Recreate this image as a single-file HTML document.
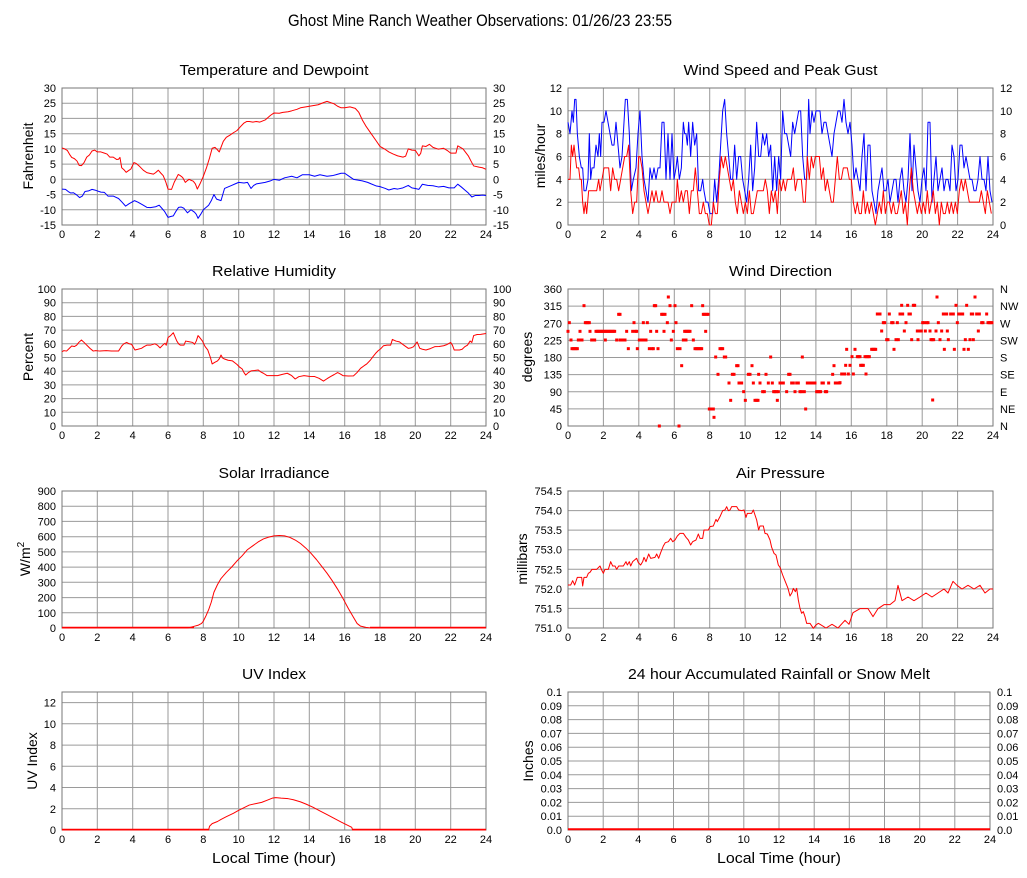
<!DOCTYPE html>
<html><head><meta charset="utf-8"><style>
html,body{margin:0;padding:0;background:#fff;}
svg{display:block;font-family:"Liberation Sans",Arial,Helvetica,sans-serif;}
.t{font-size:11px;fill:#000;}
.ttl{font-size:15px;fill:#000;text-anchor:middle;}
.al{font-size:14px;fill:#000;text-anchor:middle;}
.g{stroke:#9a9a9a;stroke-width:1;fill:none;}
.b{stroke:#777;stroke-width:1;fill:none;}
.r{fill:none;stroke:#ff0000;stroke-width:1;vector-effect:non-scaling-stroke;stroke-linejoin:round;}
.bl{fill:none;stroke:#0000ff;stroke-width:1;vector-effect:non-scaling-stroke;stroke-linejoin:round;}
</style></head><body>
<svg width="1027" height="878" viewBox="0 0 1027 878" xmlns="http://www.w3.org/2000/svg">
<rect width="1027" height="878" fill="#fff"/>
<defs>
<g id="xl" class="t" text-anchor="middle">
<text x="62">0</text><text x="97.3">2</text><text x="132.7">4</text><text x="168">6</text><text x="203.3">8</text><text x="238.7">10</text><text x="274">12</text><text x="309.3">14</text><text x="344.7">16</text><text x="380">18</text><text x="415.3">20</text><text x="450.7">22</text><text x="486">24</text>
</g>
<g id="xr" class="t" text-anchor="middle">
<text x="568">0</text><text x="603.4">2</text><text x="638.8">4</text><text x="674.3">6</text><text x="709.7">8</text><text x="745.1">10</text><text x="780.5">12</text><text x="815.9">14</text><text x="851.3">16</text><text x="886.8">18</text><text x="922.2">20</text><text x="957.6">22</text><text x="993">24</text>
</g>
<rect id="d" x="-4.5" y="-4.5" width="9" height="9" fill="#ff0000"/>
</defs>

<text x="480" y="26" font-size="17" text-anchor="middle" textLength="384" lengthAdjust="spacingAndGlyphs">Ghost Mine Ranch Weather Observations: 01/26/23 23:55</text>

<!-- ============ Temperature ============ -->
<text class="ttl" x="274" y="75" textLength="189" lengthAdjust="spacingAndGlyphs">Temperature and Dewpoint</text>
<path class="g" d="M97.3,88V225M132.7,88V225M168,88V225M203.3,88V225M238.7,88V225M274,88V225M309.3,88V225M344.7,88V225M380,88V225M415.3,88V225M450.7,88V225M62,103.2H486M62,118.4H486M62,133.7H486M62,148.9H486M62,164.1H486M62,179.3H486M62,194.6H486M62,209.8H486"/>
<rect class="b" x="62" y="88" width="424" height="137"/>
<g class="t" text-anchor="end">
<text x="56" y="92">30</text><text x="56" y="107.2">25</text><text x="56" y="122.4">20</text><text x="56" y="137.7">15</text><text x="56" y="152.9">10</text><text x="56" y="168.1">5</text><text x="56" y="183.3">0</text><text x="56" y="198.6">-5</text><text x="56" y="213.8">-10</text><text x="56" y="229">-15</text>
</g>
<g class="t">
<text x="493" y="92">30</text><text x="493" y="107.2">25</text><text x="493" y="122.4">20</text><text x="493" y="137.7">15</text><text x="493" y="152.9">10</text><text x="493" y="168.1">5</text><text x="493" y="183.3">0</text><text x="493" y="198.6">-5</text><text x="493" y="213.8">-10</text><text x="493" y="229">-15</text>
</g>
<use href="#xl" y="238"/>
<text class="al" transform="translate(33,156) rotate(-90)">Fahrenheit</text>
<g transform="matrix(17.667 0 0 -3.0444 62 179.33)">
<polyline class="r" points="0,10.3 0.15,10 0.3,9.5 0.45,8 0.55,7.2 0.7,6.8 0.85,6 0.97,4.6 1.1,4.5 1.25,5.5 1.4,7.3 1.55,8 1.7,9.3 1.85,9.6 2.0,9 2.2,9 2.4,8.6 2.55,8.3 2.7,7.3 2.9,7.3 3.1,6.5 3.2,6.6 3.28,7.2 3.38,3.8 3.5,3.2 3.63,2.3 3.75,2.8 3.9,3.4 4.07,5.5 4.2,5.2 4.4,4.2 4.6,3 4.8,2.2 5.0,1.9 5.17,1.7 5.3,2.2 5.45,3 5.6,2 5.73,1.2 5.87,-0.8 6.0,-3.2 6.2,-3.3 6.35,-1 6.58,1.6 6.7,1.2 6.83,0.6 6.98,-1 7.1,-0.4 7.19,0 7.3,-0.3 7.43,-0.6 7.55,-1.5 7.66,-3.2 7.81,-1.5 8.0,1 8.19,4 8.35,7 8.5,10.2 8.66,10.5 8.78,9.8 8.9,9 9.0,10.5 9.13,12.5 9.3,13.8 9.5,14.5 9.7,15.3 9.9,16 10.1,17.3 10.3,18.5 10.46,19 10.6,19 10.8,18.8 11.0,19 11.2,18.8 11.5,19.5 11.8,21 12.0,21.8 12.3,21.7 12.5,22 12.8,22.2 13.0,22.5 13.3,23 13.5,23.5 13.8,23.8 14.0,24 14.3,24.3 14.5,24.5 14.8,25.2 15.0,25.6 15.2,25.2 15.4,24.8 15.6,24 15.8,23.5 16.0,23.5 16.3,23.8 16.6,23.3 16.8,22 17.0,19.5 17.2,17.5 17.5,15 17.8,12.5 18.0,10.8 18.25,10 18.5,9 18.75,8.3 19.0,7.7 19.3,7.3 19.45,7.6 19.6,10 19.8,9.6 20.0,9.5 20.2,7.7 20.3,8.5 20.4,11 20.6,10.8 20.8,11.5 21.0,10.5 21.3,9.9 21.6,10.2 21.8,9.5 22.0,8.6 22.3,8.6 22.4,11 22.7,10 23.0,7.7 23.15,6 23.3,4.4 23.6,4 23.8,3.8 24,3.3"/>
<polyline class="bl" points="0,-3.2 0.2,-3.3 0.35,-4 0.5,-4.5 0.65,-4.4 0.8,-5 1.0,-6 1.15,-5.5 1.3,-4 1.5,-3.8 1.7,-3.3 1.9,-3.6 2.2,-4.2 2.4,-4.3 2.6,-5.5 2.9,-5.5 3.2,-6.3 3.4,-7.5 3.6,-8.8 3.8,-8 4.1,-7 4.3,-7.5 4.6,-8.5 4.8,-9.2 5.0,-9.3 5.3,-9 5.5,-8.5 5.65,-9.5 5.8,-10.5 6.0,-12.5 6.15,-12.2 6.3,-12 6.45,-10.5 6.6,-9.2 6.75,-9.1 6.9,-9.5 7.1,-11 7.3,-10 7.5,-10.8 7.6,-11.5 7.7,-12.8 7.85,-11.5 8.0,-10 8.3,-8.5 8.45,-7 8.6,-5 8.75,-6.5 9.0,-7 9.2,-3 9.4,-2.5 9.6,-2 9.8,-1.5 10.0,-1 10.3,-1.2 10.5,-1 10.7,-3 10.85,-2 11.0,-1.5 11.3,-1.2 11.5,-1 11.8,-0.5 12.0,0 12.3,-0.3 12.6,0.5 13.0,1 13.3,0.5 13.6,1.5 14.0,1.5 14.3,1 14.6,1.5 15.0,1 15.3,1.2 15.5,1.5 15.8,2 16.0,2 16.2,1.2 16.5,0 16.8,-0.3 17.0,-0.5 17.3,-1 17.5,-1.5 17.8,-2.2 18.0,-2.4 18.3,-3 18.5,-3.5 18.8,-3 19.0,-3.2 19.3,-2.8 19.6,-2 19.8,-2.8 20.0,-3 20.2,-3.3 20.4,-1.6 20.7,-2 21.0,-2.1 21.3,-2.5 21.6,-2.3 21.9,-2.8 22.2,-2.8 22.4,-1.6 22.6,-2.5 22.8,-3.5 23.0,-4.5 23.2,-5.8 23.4,-5.3 23.6,-5.3 23.8,-5.2 24,-5.3"/>
</g>

<!-- ============ Wind Speed ============ -->
<text class="ttl" x="780.5" y="75" textLength="194" lengthAdjust="spacingAndGlyphs">Wind Speed and Peak Gust</text>
<path class="g" d="M603.4,88V225M638.8,88V225M674.3,88V225M709.7,88V225M745.1,88V225M780.5,88V225M815.9,88V225M851.3,88V225M886.8,88V225M922.2,88V225M957.6,88V225M568,110.8H993M568,133.7H993M568,156.5H993M568,179.3H993M568,202.2H993"/>
<rect class="b" x="568" y="88" width="425" height="137"/>
<g class="t" text-anchor="end">
<text x="562" y="92">12</text><text x="562" y="114.8">10</text><text x="562" y="137.7">8</text><text x="562" y="160.5">6</text><text x="562" y="183.3">4</text><text x="562" y="206.2">2</text><text x="562" y="229">0</text>
</g>
<g class="t">
<text x="1000" y="92">12</text><text x="1000" y="114.8">10</text><text x="1000" y="137.7">8</text><text x="1000" y="160.5">6</text><text x="1000" y="183.3">4</text><text x="1000" y="206.2">2</text><text x="1000" y="229">0</text>
</g>
<use href="#xr" y="238"/>
<text class="al" transform="translate(545,156) rotate(-90)">miles/hour</text>
<g transform="matrix(0.33333 0 0 -11.4167 560 225)">
<polyline class="bl" points="24,9 30,8 36,10 40,9 44,11 48,11 52,8 58,6 64,5 68,5 72,3 78,3 84,4 88,8 92,4 96,5 102,5 108,7 114,6 118,8 122,6 126,9 132,9 138,10 144,9 150,8 156,7 162,7 168,9 174,7 180,5 186,6 192,9 196,11 202,11 208,8 214,3 220,4 228,5 234,8 240,10 246,6 252,4 258,3 264,2 270,5 276,4 282,5 288,4 294,5 300,5 306,9 312,9 318,4 324,8 330,4 336,8 342,4 348,5 352,6 358,4 364,5 370,9 374,8 378,8 382,7 386,9 392,6 398,9 404,7 410,8 416,3 422,3 428,4 432,3 438,2 444,2 450,1 458,1 464,4 470,2 476,4 482,7 488,10 494,11 500,8 506,6 512,4 518,4 524,7 530,4 536,6 542,6 548,4 554,3 560,2 566,4 572,7 578,3 584,5 590,9 596,6 602,6 608,8 614,7 620,8 626,6 632,7 638,3 644,6 650,3 656,6 662,4 668,10 674,8 680,8 686,7 692,6 698,9 704,8 710,9 716,10 722,10 728,6 734,4 740,4 746,11 750,8 756,10 762,9 768,10 774,10 780,10 786,8 792,9 798,9 804,8 810,7 816,6 822,8 828,9 834,10 840,10 846,9 852,11 858,9 864,8 870,9 876,7 882,4 888,5 894,4 900,3 906,6 912,8 918,3 924,7 930,7 936,3 942,2 948,1 954,3 960,4 966,5 972,3 978,3 984,4 990,2 996,3 1002,4 1008,4 1014,2 1020,4 1026,5 1032,3 1038,2 1044,4 1050,8 1056,3 1062,7 1068,5 1074,3 1080,2 1086,4 1092,5 1098,3 1104,9 1110,9 1116,2 1122,4 1128,6 1134,3 1140,4 1146,5 1152,3 1158,4 1164,4 1170,3 1176,7 1182,6 1188,3 1194,4 1200,7 1206,7 1212,5 1218,6 1224,5 1230,4 1236,4 1242,3 1248,3 1254,4 1260,6 1266,4 1272,4 1278,3 1284,6 1290,3 1296,2"/>
<polyline class="r" points="24,4 30,4 34,7 38,6 42,7 46,6 50,5 56,5 60,4 64,4 68,2 72,1 76,2 80,1 86,3 92,3 100,3 110,3 116,4 120,3 126,4 132,5 140,5 146,5 152,3 158,5 164,4 170,4 176,3 182,4 188,5 194,6 200,6 206,7 212,3 218,1 224,2 230,2 236,6 240,6 246,5 252,3 258,2 264,1 270,2 276,3 282,2 288,3 294,2 300,2 306,3 312,2 318,2 324,2 330,1 336,2 342,2 348,2 352,4 358,2 364,3 370,2 376,3 382,3 388,1 394,3 400,3 406,5 412,3 418,1 424,1 430,2 436,1 442,1 448,0 454,0 460,2 466,1 472,1 478,4 484,6 490,5 496,6 502,5 508,4 514,3 520,4 526,2 532,1 538,3 544,2 550,1 556,2 562,1 568,3 574,1 580,1 586,2 592,3 598,3 604,3 610,3 616,4 622,3 628,1 634,3 640,2 646,3 652,1 658,4 664,3 670,4 676,3 682,4 688,4 694,4 700,5 706,3 712,4 718,4 724,4 730,2 736,2 742,6 748,4 754,6 760,5 766,6 772,6 778,6 784,4 790,5 796,3 802,4 808,3 814,2 820,2 826,4 832,6 838,4 844,4 850,5 856,5 862,5 868,4 874,4 880,2 886,1 892,2 898,1 904,1 910,3 916,1 922,2 928,1 934,2 940,1 946,0 952,1 958,2 964,1 970,3 976,1 982,2 988,2 994,1 1000,2 1006,1 1012,1 1018,2 1024,3 1030,1 1036,2 1042,0 1048,3 1054,5 1060,3 1066,2 1072,1 1078,2 1084,1 1090,2 1096,1 1102,3 1108,1 1114,2 1120,3 1126,1 1132,2 1138,0 1144,2 1150,1 1156,1 1162,2 1168,1 1174,2 1180,1 1186,2 1192,1 1198,3 1204,4 1210,3 1216,4 1222,3 1228,2 1234,2 1240,2 1246,2 1252,2 1258,2 1264,3 1270,2 1276,1 1282,3 1288,2 1294,1"/>
</g>

<!-- ============ Relative Humidity ============ -->
<text class="ttl" x="274" y="276" textLength="124" lengthAdjust="spacingAndGlyphs">Relative Humidity</text>
<path class="g" d="M97.3,289V426M132.7,289V426M168,289V426M203.3,289V426M238.7,289V426M274,289V426M309.3,289V426M344.7,289V426M380,289V426M415.3,289V426M450.7,289V426M62,302.7H486M62,316.4H486M62,330.1H486M62,343.8H486M62,357.5H486M62,371.2H486M62,384.9H486M62,398.6H486M62,412.3H486"/>
<rect class="b" x="62" y="289" width="424" height="137"/>
<g class="t" text-anchor="end">
<text x="56" y="293">100</text><text x="56" y="306.7">90</text><text x="56" y="320.4">80</text><text x="56" y="334.1">70</text><text x="56" y="347.8">60</text><text x="56" y="361.5">50</text><text x="56" y="375.2">40</text><text x="56" y="388.9">30</text><text x="56" y="402.6">20</text><text x="56" y="416.3">10</text><text x="56" y="430">0</text>
</g>
<g class="t">
<text x="493" y="293">100</text><text x="493" y="306.7">90</text><text x="493" y="320.4">80</text><text x="493" y="334.1">70</text><text x="493" y="347.8">60</text><text x="493" y="361.5">50</text><text x="493" y="375.2">40</text><text x="493" y="388.9">30</text><text x="493" y="402.6">20</text><text x="493" y="416.3">10</text><text x="493" y="430">0</text>
</g>
<use href="#xl" y="439"/>
<text class="al" transform="translate(33,357) rotate(-90)">Percent</text>
<g transform="matrix(17.667 0 0 -1.37 62 426)">
<polyline class="r" points="0,54.2 0.1,55 0.26,54.7 0.4,56.5 0.55,58.4 0.7,58 0.83,59 0.95,61 1.1,62.8 1.25,61 1.4,59 1.6,56.5 1.77,54.7 1.9,55 2.15,54.7 2.5,55 2.8,54.7 3.2,54.7 3.38,58.4 3.5,60 3.66,61 3.8,60 3.94,59.6 4.13,55.5 4.3,56 4.5,56.7 4.65,58 4.8,59 5.0,59 5.26,60 5.4,59 5.55,57 5.7,59 5.83,60.4 5.9,59 6.0,64.5 6.15,66 6.3,68.1 6.4,65 6.5,62 6.6,60 6.7,59 6.9,59 7.0,62 7.2,61.5 7.4,61 7.5,59.6 7.6,62 7.7,66 7.8,64.5 7.95,62 8.1,58 8.25,55.5 8.4,50 8.5,45.3 8.65,46.5 8.8,47.5 8.9,49 9.0,51.8 9.1,49.5 9.2,48.9 9.4,48 9.65,47.5 9.8,46 9.9,45 10.05,43 10.2,41.6 10.3,39 10.4,37.2 10.55,39 10.7,40.2 10.9,40.5 11.1,40.9 11.25,39.5 11.4,38.5 11.6,36.8 11.9,36.8 12.2,36.8 12.5,37.8 12.75,38.5 12.9,37.5 13.0,36.8 13.2,34.3 13.4,36 13.7,36.8 14.0,36.2 14.3,36.1 14.55,34.8 14.8,32.8 15.0,34.5 15.2,36.1 15.4,37.5 15.6,39 15.75,38 15.9,36.8 16.2,36.5 16.5,36.6 16.7,39 16.9,42.1 17.1,44 17.25,45.3 17.45,48 17.6,50.6 17.75,53 17.9,55 18.05,56.5 18.2,58.6 18.4,59 18.6,59 18.7,63.2 18.9,62 19.1,61.4 19.35,59 19.6,56.7 19.75,57 19.9,57.9 20.1,61.4 20.25,56.7 20.4,56 20.6,55.5 20.85,56.5 21.1,57.9 21.35,58 21.6,58.6 21.8,59.5 22.0,61 22.1,59 22.2,55.5 22.5,55.5 22.65,56 22.8,57.9 22.95,59 23.1,62 23.2,61 23.3,66 23.5,66.8 23.7,66.9 24,67.5"/>
</g>

<!-- ============ Wind Direction ============ -->
<text class="ttl" x="780.5" y="276" textLength="103" lengthAdjust="spacingAndGlyphs">Wind Direction</text>
<path class="g" d="M603.4,289V426M638.8,289V426M674.3,289V426M709.7,289V426M745.1,289V426M780.5,289V426M815.9,289V426M851.3,289V426M886.8,289V426M922.2,289V426M957.6,289V426M568,306.1H993M568,323.3H993M568,340.4H993M568,357.5H993M568,374.6H993M568,391.8H993M568,408.9H993"/>
<rect class="b" x="568" y="289" width="425" height="137"/>
<g class="t" text-anchor="end">
<text x="562" y="293">360</text><text x="562" y="310.1">315</text><text x="562" y="327.3">270</text><text x="562" y="344.4">225</text><text x="562" y="361.5">180</text><text x="562" y="378.6">135</text><text x="562" y="395.8">90</text><text x="562" y="412.9">45</text><text x="562" y="430">0</text>
</g>
<g class="t">
<text x="1000" y="293">N</text><text x="1000" y="310.1">NW</text><text x="1000" y="327.3">W</text><text x="1000" y="344.4">SW</text><text x="1000" y="361.5">S</text><text x="1000" y="378.6">SE</text><text x="1000" y="395.8">E</text><text x="1000" y="412.9">NE</text><text x="1000" y="430">N</text>
</g>
<use href="#xr" y="439"/>
<text class="al" transform="translate(532,357) rotate(-90)">degrees</text>
<g transform="translate(560,285) scale(0.33333)">
<use href="#d" x="24" y="139"/><use href="#d" x="28" y="113"/><use href="#d" x="33" y="165"/><use href="#d" x="36" y="191"/><use href="#d" x="40" y="191"/><use href="#d" x="44" y="191"/><use href="#d" x="48" y="191"/><use href="#d" x="52" y="191"/><use href="#d" x="55" y="165"/><use href="#d" x="60" y="139"/><use href="#d" x="62" y="165"/><use href="#d" x="66" y="165"/><use href="#d" x="72" y="62"/><use href="#d" x="76" y="113"/><use href="#d" x="80" y="113"/><use href="#d" x="84" y="113"/><use href="#d" x="88" y="113"/><use href="#d" x="90" y="139"/><use href="#d" x="95" y="165"/><use href="#d" x="100" y="165"/><use href="#d" x="104" y="165"/><use href="#d" x="108" y="139"/><use href="#d" x="112" y="139"/><use href="#d" x="116" y="139"/><use href="#d" x="120" y="139"/><use href="#d" x="124" y="139"/><use href="#d" x="128" y="139"/><use href="#d" x="132" y="139"/><use href="#d" x="136" y="165"/><use href="#d" x="136" y="139"/><use href="#d" x="140" y="139"/><use href="#d" x="144" y="139"/><use href="#d" x="148" y="139"/><use href="#d" x="152" y="139"/><use href="#d" x="156" y="139"/><use href="#d" x="160" y="139"/><use href="#d" x="164" y="139"/><use href="#d" x="170" y="165"/><use href="#d" x="176" y="88"/><use href="#d" x="180" y="88"/><use href="#d" x="180" y="165"/><use href="#d" x="185" y="165"/><use href="#d" x="190" y="165"/><use href="#d" x="195" y="165"/><use href="#d" x="200" y="139"/><use href="#d" x="205" y="191"/><use href="#d" x="218" y="139"/><use href="#d" x="222" y="113"/><use href="#d" x="226" y="139"/><use href="#d" x="230" y="139"/><use href="#d" x="232" y="191"/><use href="#d" x="238" y="165"/><use href="#d" x="242" y="165"/><use href="#d" x="246" y="165"/><use href="#d" x="250" y="113"/><use href="#d" x="250" y="165"/><use href="#d" x="254" y="165"/><use href="#d" x="258" y="165"/><use href="#d" x="262" y="113"/><use href="#d" x="268" y="191"/><use href="#d" x="272" y="139"/><use href="#d" x="276" y="191"/><use href="#d" x="280" y="191"/><use href="#d" x="283" y="62"/><use href="#d" x="287" y="62"/><use href="#d" x="290" y="139"/><use href="#d" x="294" y="191"/><use href="#d" x="298" y="423"/><use href="#d" x="305" y="88"/><use href="#d" x="309" y="88"/><use href="#d" x="312" y="139"/><use href="#d" x="315" y="88"/><use href="#d" x="322" y="113"/><use href="#d" x="325" y="36"/><use href="#d" x="330" y="62"/><use href="#d" x="334" y="165"/><use href="#d" x="340" y="139"/><use href="#d" x="345" y="62"/><use href="#d" x="348" y="113"/><use href="#d" x="352" y="191"/><use href="#d" x="357" y="423"/><use href="#d" x="360" y="191"/><use href="#d" x="365" y="242"/><use href="#d" x="370" y="165"/><use href="#d" x="374" y="139"/><use href="#d" x="378" y="165"/><use href="#d" x="378" y="139"/><use href="#d" x="382" y="139"/><use href="#d" x="386" y="139"/><use href="#d" x="390" y="139"/><use href="#d" x="395" y="62"/><use href="#d" x="400" y="165"/><use href="#d" x="405" y="191"/><use href="#d" x="409" y="191"/><use href="#d" x="413" y="191"/><use href="#d" x="417" y="191"/><use href="#d" x="421" y="191"/><use href="#d" x="425" y="191"/><use href="#d" x="428" y="62"/><use href="#d" x="430" y="88"/><use href="#d" x="434" y="88"/><use href="#d" x="437" y="139"/><use href="#d" x="440" y="88"/><use href="#d" x="444" y="88"/><use href="#d" x="448" y="372"/><use href="#d" x="452" y="372"/><use href="#d" x="456" y="372"/><use href="#d" x="460" y="372"/><use href="#d" x="462" y="397"/><use href="#d" x="467" y="216"/><use href="#d" x="474" y="268"/><use href="#d" x="480" y="191"/><use href="#d" x="484" y="191"/><use href="#d" x="488" y="191"/><use href="#d" x="493" y="216"/><use href="#d" x="497" y="216"/><use href="#d" x="507" y="294"/><use href="#d" x="512" y="346"/><use href="#d" x="517" y="268"/><use href="#d" x="522" y="268"/><use href="#d" x="530" y="242"/><use href="#d" x="534" y="242"/><use href="#d" x="537" y="294"/><use href="#d" x="541" y="294"/><use href="#d" x="545" y="294"/><use href="#d" x="551" y="320"/><use href="#d" x="556" y="346"/><use href="#d" x="565" y="268"/><use href="#d" x="570" y="268"/><use href="#d" x="576" y="242"/><use href="#d" x="580" y="294"/><use href="#d" x="585" y="346"/><use href="#d" x="590" y="346"/><use href="#d" x="594" y="346"/><use href="#d" x="596" y="268"/><use href="#d" x="600" y="294"/><use href="#d" x="608" y="320"/><use href="#d" x="613" y="320"/><use href="#d" x="618" y="268"/><use href="#d" x="625" y="294"/><use href="#d" x="632" y="216"/><use href="#d" x="637" y="294"/><use href="#d" x="641" y="320"/><use href="#d" x="645" y="320"/><use href="#d" x="649" y="320"/><use href="#d" x="652" y="346"/><use href="#d" x="655" y="320"/><use href="#d" x="660" y="294"/><use href="#d" x="665" y="294"/><use href="#d" x="670" y="294"/><use href="#d" x="680" y="320"/><use href="#d" x="686" y="268"/><use href="#d" x="690" y="268"/><use href="#d" x="695" y="294"/><use href="#d" x="700" y="294"/><use href="#d" x="705" y="320"/><use href="#d" x="710" y="294"/><use href="#d" x="715" y="294"/><use href="#d" x="720" y="320"/><use href="#d" x="725" y="320"/><use href="#d" x="727" y="216"/><use href="#d" x="733" y="320"/><use href="#d" x="737" y="372"/><use href="#d" x="742" y="294"/><use href="#d" x="746" y="294"/><use href="#d" x="750" y="294"/><use href="#d" x="755" y="294"/><use href="#d" x="760" y="294"/><use href="#d" x="765" y="294"/><use href="#d" x="770" y="320"/><use href="#d" x="774" y="320"/><use href="#d" x="778" y="320"/><use href="#d" x="782" y="320"/><use href="#d" x="786" y="294"/><use href="#d" x="790" y="294"/><use href="#d" x="796" y="320"/><use href="#d" x="800" y="320"/><use href="#d" x="806" y="294"/><use href="#d" x="818" y="268"/><use href="#d" x="822" y="242"/><use href="#d" x="826" y="294"/><use href="#d" x="830" y="294"/><use href="#d" x="834" y="294"/><use href="#d" x="838" y="294"/>
</g>
<g transform="translate(840,270) scale(0.33333)">
<use href="#d" x="0" y="338"/><use href="#d" x="5" y="312"/><use href="#d" x="10" y="312"/><use href="#d" x="14" y="312"/><use href="#d" x="17" y="286"/><use href="#d" x="20" y="238"/><use href="#d" x="25" y="312"/><use href="#d" x="30" y="286"/><use href="#d" x="36" y="260"/><use href="#d" x="40" y="312"/><use href="#d" x="45" y="238"/><use href="#d" x="52" y="260"/><use href="#d" x="56" y="260"/><use href="#d" x="60" y="260"/><use href="#d" x="62" y="286"/><use href="#d" x="66" y="286"/><use href="#d" x="70" y="286"/><use href="#d" x="75" y="260"/><use href="#d" x="78" y="312"/><use href="#d" x="80" y="260"/><use href="#d" x="84" y="260"/><use href="#d" x="88" y="260"/><use href="#d" x="95" y="238"/><use href="#d" x="99" y="238"/><use href="#d" x="103" y="238"/><use href="#d" x="107" y="238"/><use href="#d" x="112" y="132"/><use href="#d" x="116" y="132"/><use href="#d" x="120" y="132"/><use href="#d" x="125" y="183"/><use href="#d" x="130" y="158"/><use href="#d" x="134" y="158"/><use href="#d" x="140" y="209"/><use href="#d" x="144" y="209"/><use href="#d" x="148" y="132"/><use href="#d" x="155" y="158"/><use href="#d" x="159" y="158"/><use href="#d" x="162" y="238"/><use href="#d" x="168" y="209"/><use href="#d" x="172" y="158"/><use href="#d" x="175" y="209"/><use href="#d" x="180" y="132"/><use href="#d" x="184" y="132"/><use href="#d" x="185" y="106"/><use href="#d" x="188" y="132"/><use href="#d" x="193" y="183"/><use href="#d" x="198" y="158"/><use href="#d" x="203" y="106"/><use href="#d" x="207" y="132"/><use href="#d" x="211" y="132"/><use href="#d" x="215" y="209"/><use href="#d" x="220" y="106"/><use href="#d" x="224" y="106"/><use href="#d" x="232" y="183"/><use href="#d" x="234" y="209"/><use href="#d" x="236" y="183"/><use href="#d" x="240" y="183"/><use href="#d" x="244" y="183"/><use href="#d" x="248" y="158"/><use href="#d" x="252" y="158"/><use href="#d" x="256" y="183"/><use href="#d" x="260" y="158"/><use href="#d" x="264" y="158"/><use href="#d" x="270" y="183"/><use href="#d" x="273" y="209"/><use href="#d" x="277" y="209"/><use href="#d" x="281" y="209"/><use href="#d" x="278" y="390"/><use href="#d" x="288" y="183"/><use href="#d" x="291" y="81"/><use href="#d" x="295" y="158"/><use href="#d" x="300" y="209"/><use href="#d" x="305" y="183"/><use href="#d" x="310" y="132"/><use href="#d" x="313" y="238"/><use href="#d" x="316" y="132"/><use href="#d" x="320" y="132"/><use href="#d" x="322" y="183"/><use href="#d" x="325" y="209"/><use href="#d" x="332" y="132"/><use href="#d" x="336" y="132"/><use href="#d" x="340" y="132"/><use href="#d" x="343" y="238"/><use href="#d" x="348" y="106"/><use href="#d" x="352" y="158"/><use href="#d" x="356" y="132"/><use href="#d" x="360" y="132"/><use href="#d" x="364" y="132"/><use href="#d" x="368" y="132"/><use href="#d" x="372" y="238"/><use href="#d" x="376" y="209"/><use href="#d" x="380" y="106"/><use href="#d" x="385" y="238"/><use href="#d" x="390" y="209"/><use href="#d" x="394" y="132"/><use href="#d" x="398" y="132"/><use href="#d" x="400" y="209"/><use href="#d" x="405" y="81"/><use href="#d" x="410" y="132"/><use href="#d" x="414" y="132"/><use href="#d" x="418" y="132"/><use href="#d" x="415" y="183"/><use href="#d" x="425" y="158"/><use href="#d" x="429" y="158"/><use href="#d" x="440" y="132"/><use href="#d" x="444" y="158"/><use href="#d" x="448" y="158"/><use href="#d" x="452" y="158"/><use href="#d" x="456" y="158"/>
</g>

<!-- ============ Solar Irradiance ============ -->
<text class="ttl" x="274" y="478" textLength="111" lengthAdjust="spacingAndGlyphs">Solar Irradiance</text>
<path class="g" d="M97.3,491V628M132.7,491V628M168,491V628M203.3,491V628M238.7,491V628M274,491V628M309.3,491V628M344.7,491V628M380,491V628M415.3,491V628M450.7,491V628M62,506.2H486M62,521.4H486M62,536.7H486M62,551.9H486M62,567.1H486M62,582.3H486M62,597.6H486M62,612.8H486"/>
<rect class="b" x="62" y="491" width="424" height="137"/>
<g class="t" text-anchor="end">
<text x="56" y="495">900</text><text x="56" y="510.2">800</text><text x="56" y="525.4">700</text><text x="56" y="540.7">600</text><text x="56" y="555.9">500</text><text x="56" y="571.1">400</text><text x="56" y="586.3">300</text><text x="56" y="601.6">200</text><text x="56" y="616.8">100</text><text x="56" y="632">0</text>
</g>
<use href="#xl" y="641"/>
<text class="al" transform="translate(30,559) rotate(-90)">W/m<tspan font-size="10" dy="-6">2</tspan></text>
<line x1="62" y1="627.5" x2="194" y2="627.5" stroke="#ff0000" stroke-width="1.6"/>
<line x1="370" y1="627.5" x2="486" y2="627.5" stroke="#ff0000" stroke-width="1.6"/>
<g transform="matrix(17.667 0 0 -0.15222 62 628)">
<polyline class="r" points="0,0 7.1,0 7.3,5 7.5,12 7.7,18 7.9,30 8.0,45 8.15,80 8.3,120 8.45,170 8.6,235 8.8,285 9.0,325 9.3,365 9.6,400 9.9,440 10.2,475 10.5,515 10.8,540 11.1,565 11.4,585 11.7,597 12.0,605 12.3,608 12.6,605 12.9,595 13.2,578 13.5,555 13.8,525 14.1,490 14.4,450 14.7,405 15.0,360 15.3,310 15.6,255 15.9,195 16.2,130 16.5,70 16.7,30 16.9,12 17.2,4 17.5,0 24,0"/>
</g>

<!-- ============ Air Pressure ============ -->
<text class="ttl" x="780.5" y="478" textLength="89" lengthAdjust="spacingAndGlyphs">Air Pressure</text>
<path class="g" d="M603.4,491V628M638.8,491V628M674.3,491V628M709.7,491V628M745.1,491V628M780.5,491V628M815.9,491V628M851.3,491V628M886.8,491V628M922.2,491V628M957.6,491V628M568,510.6H993M568,530.1H993M568,549.7H993M568,569.3H993M568,588.9H993M568,608.4H993"/>
<rect class="b" x="568" y="491" width="425" height="137"/>
<g class="t" text-anchor="end">
<text x="562" y="495">754.5</text><text x="562" y="514.6">754.0</text><text x="562" y="534.1">753.5</text><text x="562" y="553.7">753.0</text><text x="562" y="573.3">752.5</text><text x="562" y="592.9">752.0</text><text x="562" y="612.4">751.5</text><text x="562" y="632">751.0</text>
</g>
<use href="#xr" y="641"/>
<text class="al" transform="translate(527,559) rotate(-90)">millibars</text>
<g transform="translate(500,460) scale(0.33333)">
<polyline class="r" points="204,375 212,375 218,362 224,375 232,352 240,352 245,352 248,378 252,352 260,352 265,340 270,337 276,328 290,328 300,318 305,330 310,340 315,328 325,328 332,305 338,318 345,318 350,328 356,318 370,318 378,305 382,315 388,305 392,318 398,305 406,298 410,295 415,308 422,315 428,305 432,292 438,305 446,282 452,295 465,292 470,282 476,295 482,278 490,258 496,248 505,245 512,235 518,245 525,240 532,228 540,220 550,220 558,232 565,240 572,255 578,245 588,240 595,222 600,235 608,235 612,210 620,210 625,210 630,200 640,198 648,178 652,185 660,170 668,152 675,150 680,140 685,152 690,150 695,140 710,140 716,150 725,152 732,150 738,172 742,160 750,160 755,160 760,150 770,180 776,210 780,198 790,198 795,220 802,222 810,240 815,262 822,280 828,285 835,315 840,322 848,345 856,365 864,385 870,408 876,398 880,385 886,395 890,385 895,420 900,445 905,460 910,455 915,470 920,490 930,490 940,505 948,495 955,490 960,493 978,504 996,493 1014,504 1035,481 1047,493 1059,458 1080,446 1104,446 1119,470 1134,446 1152,434 1170,434 1185,422 1194,376 1206,422 1224,411 1242,422 1260,411 1278,399 1296,411 1314,399 1332,387 1344,399 1359,364 1371,376 1386,387 1404,376 1422,387 1440,376 1455,399 1470,387 1479,387"/>
</g>

<!-- ============ UV Index ============ -->
<text class="ttl" x="274" y="679" textLength="64" lengthAdjust="spacingAndGlyphs">UV Index</text>
<path class="g" d="M97.3,692V830M132.7,692V830M168,692V830M203.3,692V830M238.7,692V830M274,692V830M309.3,692V830M344.7,692V830M380,692V830M415.3,692V830M450.7,692V830M62,702.6H486M62,723.8H486M62,745.1H486M62,766.3H486M62,787.5H486M62,808.8H486"/>
<rect class="b" x="62" y="692" width="424" height="138"/>
<g class="t" text-anchor="end">
<text x="56" y="706.6">12</text><text x="56" y="727.8">10</text><text x="56" y="749.1">8</text><text x="56" y="770.3">6</text><text x="56" y="791.5">4</text><text x="56" y="812.8">2</text><text x="56" y="834">0</text>
</g>
<use href="#xl" y="843"/>
<text class="al" transform="translate(37,761) rotate(-90)">UV Index</text>
<line x1="62" y1="829.5" x2="209" y2="829.5" stroke="#ff0000" stroke-width="1.6"/>
<line x1="352" y1="829.5" x2="486" y2="829.5" stroke="#ff0000" stroke-width="1.6"/>
<g transform="matrix(17.667 0 0 -10.615 62 830)">
<polyline class="r" points="0,0 8.3,0 8.35,0.35 8.5,0.6 8.8,0.8 9.0,1.0 9.3,1.25 9.7,1.57 10.0,1.85 10.3,2.1 10.6,2.35 11.0,2.5 11.3,2.6 11.6,2.8 11.9,3.0 12.1,3.05 12.4,3.0 12.8,2.95 13.1,2.85 13.5,2.65 13.8,2.45 14.2,2.15 14.6,1.8 15.0,1.45 15.4,1.1 15.8,0.75 16.1,0.5 16.4,0.25 16.45,0 24,0"/>
</g>
<text x="274" y="863" font-size="15" text-anchor="middle" textLength="124" lengthAdjust="spacingAndGlyphs">Local Time (hour)</text>

<!-- ============ Rain ============ -->
<text class="ttl" x="779" y="679" textLength="302" lengthAdjust="spacingAndGlyphs">24 hour Accumulated Rainfall or Snow Melt</text>
<path class="g" d="M603.2,692V830M638.3,692V830M673.5,692V830M708.7,692V830M743.8,692V830M779,692V830M814.2,692V830M849.3,692V830M884.5,692V830M919.7,692V830M954.8,692V830M568,705.8H990M568,719.6H990M568,733.4H990M568,747.2H990M568,761H990M568,774.8H990M568,788.6H990M568,802.4H990M568,816.2H990"/>
<rect class="b" x="568" y="692" width="422" height="138"/>
<g class="t" text-anchor="end">
<text x="562" y="696">0.1</text><text x="562" y="709.8">0.09</text><text x="562" y="723.6">0.08</text><text x="562" y="737.4">0.07</text><text x="562" y="751.2">0.06</text><text x="562" y="765">0.05</text><text x="562" y="778.8">0.04</text><text x="562" y="792.6">0.03</text><text x="562" y="806.4">0.02</text><text x="562" y="820.2">0.01</text><text x="562" y="834">0.0</text>
</g>
<g class="t">
<text x="997" y="696">0.1</text><text x="997" y="709.8">0.09</text><text x="997" y="723.6">0.08</text><text x="997" y="737.4">0.07</text><text x="997" y="751.2">0.06</text><text x="997" y="765">0.05</text><text x="997" y="778.8">0.04</text><text x="997" y="792.6">0.03</text><text x="997" y="806.4">0.02</text><text x="997" y="820.2">0.01</text><text x="997" y="834">0.0</text>
</g>
<g class="t" text-anchor="middle">
<text x="568" y="843">0</text><text x="603.2" y="843">2</text><text x="638.3" y="843">4</text><text x="673.5" y="843">6</text><text x="708.7" y="843">8</text><text x="743.8" y="843">10</text><text x="779" y="843">12</text><text x="814.2" y="843">14</text><text x="849.3" y="843">16</text><text x="884.5" y="843">18</text><text x="919.7" y="843">20</text><text x="954.8" y="843">22</text><text x="990" y="843">24</text>
</g>
<text class="al" transform="translate(533,761) rotate(-90)">Inches</text>
<line x1="568" y1="829.3" x2="990" y2="829.3" stroke="#ff0000" stroke-width="2"/>
<text x="779" y="863" font-size="15" text-anchor="middle" textLength="124" lengthAdjust="spacingAndGlyphs">Local Time (hour)</text>
</svg>
</body></html>
